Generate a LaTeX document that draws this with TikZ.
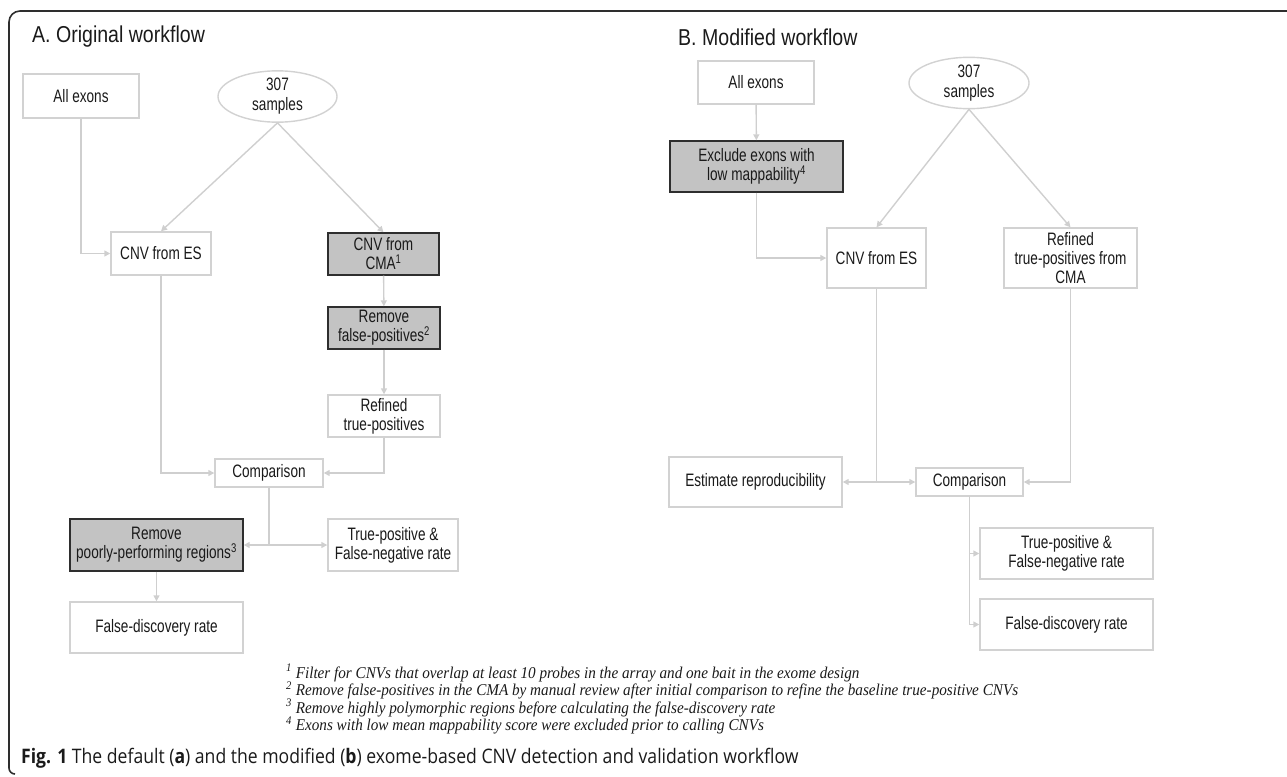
\documentclass[tikz,border=0pt]{standalone}
\usepackage{fontspec}
\usetikzlibrary{arrows.meta,shapes.geometric}
\newfontfamily\nodefont[FakeStretch=0.755]{Liberation Sans}
\newfontfamily\titlefont[FakeStretch=0.85]{Liberation Sans}
\newfontfamily\footfont[FakeStretch=0.92]{Liberation Serif}
\newfontfamily\capfont[FakeStretch=0.88]{Open Sans}
\definecolor{lineg}{HTML}{D2D2D2}
\definecolor{arrg}{HTML}{CFCFCF}
\definecolor{fillg}{HTML}{C3C3C3}
\definecolor{darkb}{HTML}{2E2E2E}
\definecolor{txt}{HTML}{1A1A1A}
\tikzset{
  box/.style={draw=lineg, line width=1.4pt, fill=white, inner sep=0pt, align=center,
    text=txt, font=\nodefont\fontsize{18}{21}\selectfont},
  graybox/.style={box, draw=darkb, fill=fillg},
  oval/.style={box, ellipse},
  conn/.style={draw=arrg, line width=1.4pt, -{Triangle[length=6pt,width=6pt]}},
  plain/.style={draw=arrg, line width=1.4pt},
  ttl/.style={anchor=west, inner sep=0pt, text=txt, font=\titlefont\fontsize{23}{26}\selectfont},
  fnote/.style={anchor=west, inner sep=0pt, text=txt, font=\footfont\itshape\fontsize{16.5}{18}\selectfont},
}
\begin{document}
\begin{tikzpicture}[x=1pt,y=-1pt]
\useasboundingbox (0,0) rectangle (1287,776);
% frame
\draw[line width=1.6pt, color=darkb] (1290,11) -- (20,11) arc[start angle=270,end angle=180,radius=11] -- (9,768) arc[start angle=180,end angle=90,radius=6];
% titles
\node[ttl] (ta) at (32,37) {A. Original workflow};
\node[ttl] (tb) at (678,37) {B. Modified workflow};
% A nodes
\node[box, minimum width=116, minimum height=44] (aexons) at (81,96) {All exons};
\node[oval, minimum width=119, minimum height=43] (asamp) at (277.5,96.5) {307\\[-1pt]samples};
\node[box, minimum width=100, minimum height=43] (aes) at (161,253.5) {CNV from ES};
\node[graybox, minimum width=111, minimum height=42] (acma) at (383.5,254) {CNV from\\[-2pt]CMA\textsuperscript{1}};
\node[graybox, minimum width=112, minimum height=42] (afp) at (384,328) {Remove\\[-2pt]false-positives\textsuperscript{2}};
\node[box, minimum width=112, minimum height=42] (aref) at (384,416) {Refined\\[-2pt]true-positives};
\node[box, minimum width=108, minimum height=28] (acomp) at (269,473) {Comparison};
\node[graybox, minimum width=173, minimum height=52] (apoor) at (156.5,545) {Remove\\[-2pt]poorly-performing regions\textsuperscript{3}};
\node[box, minimum width=130, minimum height=52] (atp) at (393,545) {True-positive \&\\[-2pt]False-negative rate};
\node[box, minimum width=173, minimum height=51] (afdr) at (156.5,627.5) {False-discovery rate};
\coordinate (ajunc) at (269,545);
% A connectors
\draw[conn] (aexons.south) |- (aes.west);
\draw[conn] (asamp.south) -- (aes.north);
\draw[conn] (asamp.south) -- (acma.north);
\draw[conn] (acma) -- (afp);
\draw[conn] (afp) -- (aref);
\draw[conn] (aes.south) |- (acomp.west);
\draw[conn] (aref.south) |- (acomp.east);
\draw[plain] (acomp.south) -- (ajunc);
\draw[conn] (ajunc) -- (apoor.east);
\draw[conn] (ajunc) -- (atp.west);
\draw[conn] (apoor) -- (afdr);
% B nodes
\node[box, minimum width=116, minimum height=43] (bexons) at (756,82.5) {All exons};
\node[graybox, minimum width=173, minimum height=51] (bexcl) at (756.5,166.5) {Exclude exons with\\[-2pt]low mappability\textsuperscript{4}};
\node[oval, minimum width=120, minimum height=42] (bsamp) at (969,83) {307\\[-1pt]samples};
\node[box, minimum width=99, minimum height=60] (bes) at (876.5,258) {CNV from ES};
\node[box, minimum width=133, minimum height=60] (bref) at (1070.5,258) {Refined\\[-2pt]true-positives from\\[-2pt]CMA};
\node[box, minimum width=173, minimum height=50] (best) at (755.5,482) {Estimate reproducibility};
\node[box, minimum width=107, minimum height=28] (bcomp) at (969.5,482) {Comparison};
\node[box, minimum width=173, minimum height=51] (btp) at (1066.5,553.5) {True-positive \&\\[-2pt]False-negative rate};
\node[box, minimum width=173, minimum height=51] (bfdr) at (1066.5,624.5) {False-discovery rate};
\coordinate (bjunc) at (876.5,482);
% B connectors
\draw[conn] (bexons) -- (bexcl);
\draw[conn] (bexcl.south) |- (bes.west);
\draw[conn] (bsamp.south) -- (bes.north);
\draw[conn] (bsamp.south) -- (bref.north);
\draw[plain] (bes.south) -- (bjunc);
\draw[conn] (bjunc) -- (best.east);
\draw[conn] (bjunc) -- (bcomp.west);
\draw[conn] (bref.south) |- (bcomp.east);
\draw[conn] (bcomp.south) |- (btp.west);
\draw[conn] (bcomp.south) |- (bfdr.west);
% footnotes
\node[fnote] (f1) at (286,673) {\textsuperscript{1} Filter for CNVs that overlap at least 10 probes in the array and one bait in the exome design};
\node[fnote] (f2) at (286,690.5) {\textsuperscript{2} Remove false-positives in the CMA by manual review after initial comparison to refine the baseline true-positive CNVs};
\node[fnote] (f3) at (286,708) {\textsuperscript{3} Remove highly polymorphic regions before calculating the false-discovery rate};
\node[fnote] (f4) at (286,725.5) {\textsuperscript{4} Exons with low mean mappability score were excluded prior to calling CNVs};
% caption
\node[anchor=west, inner sep=0pt, text=txt, font=\capfont\fontsize{20}{24}\selectfont] (cap) at (21,758) {\textbf{Fig. 1} The default (\textbf{a}) and the modified (\textbf{b}) exome-based CNV detection and validation workflow};
\end{tikzpicture}
\end{document}
